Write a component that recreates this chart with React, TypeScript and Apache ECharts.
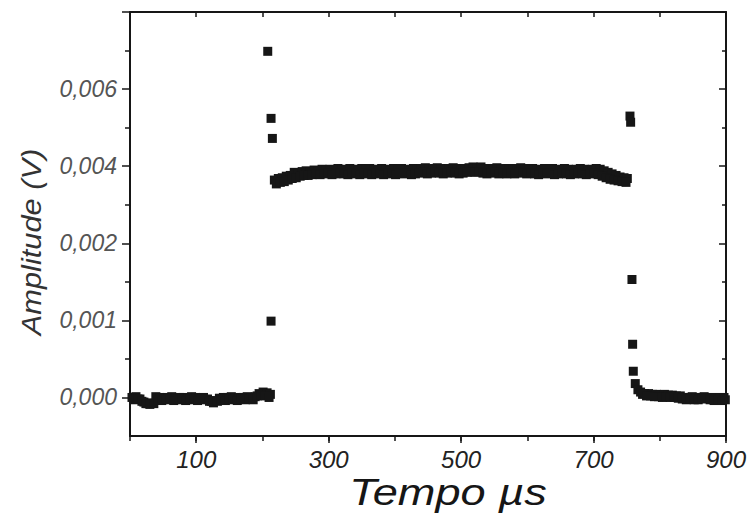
import { useEffect, useRef } from "react";
import * as echarts from "echarts";

// Amplitude values are given in the plot's tick steps (tick k carries label yTickLabels[k])
const baseline: [number, number][] = [
  [3, 0.0], [9, 0.01], [15, -0.02], [21, -0.06], [27, -0.08], [33, -0.07], [39, 0.01],
  [45, 0.0], [51, -0.01], [57, 0.0], [63, 0.01], [69, -0.01], [75, 0.0], [81, 0.0],
  [87, -0.01], [93, 0.01], [99, 0.0], [105, -0.01], [111, 0.0], [117, -0.02], [123, -0.05],
  [129, -0.04], [135, -0.01], [141, 0.0], [147, 0.0], [153, 0.01], [159, -0.01], [165, 0.0],
  [171, 0.0], [177, 0.01], [183, 0.0], [189, 0.01], [195, 0.05], [201, 0.07], [207, 0.06],
  [212, 0.04],
];

const baselineScatter: [number, number][] = [
  [6, -0.03], [12, -0.02], [18, -0.05], [24, -0.08], [30, -0.09], [36, -0.08], [42, -0.03],
  [48, -0.04], [54, -0.02], [60, -0.03], [66, -0.04], [72, -0.02], [78, -0.03], [84, -0.04],
  [90, -0.02], [96, -0.03], [102, -0.04], [108, -0.02], [114, -0.03], [120, -0.05], [126, -0.07],
  [132, -0.05], [138, -0.03], [144, -0.04], [150, -0.02], [156, -0.03], [162, -0.04], [168, -0.02],
  [174, -0.03], [180, -0.02], [186, -0.03], [192, 0.02], [198, 0.03], [204, 0.02], [210, 0.0],
];

const riseSpike: [number, number][] = [
  [208, 4.49], [213, 3.62], [215, 3.36], [213, 0.99],
];

const plateau: [number, number][] = [
  [218, 2.82], [224, 2.84], [230, 2.85], [236, 2.87], [242, 2.88], [248, 2.92], [254, 2.91],
  [260, 2.93], [266, 2.94], [272, 2.93], [278, 2.95], [284, 2.94], [290, 2.96], [296, 2.95],
  [302, 2.96], [308, 2.95], [314, 2.97], [320, 2.96], [326, 2.95], [332, 2.97], [338, 2.96],
  [344, 2.95], [350, 2.97], [356, 2.96], [362, 2.97], [368, 2.95], [374, 2.96], [380, 2.97],
  [386, 2.96], [392, 2.95], [398, 2.97], [404, 2.96], [410, 2.97], [416, 2.95], [422, 2.96],
  [428, 2.97], [434, 2.96], [440, 2.97], [446, 2.98], [452, 2.96], [458, 2.97], [464, 2.98],
  [470, 2.97], [476, 2.96], [482, 2.97], [488, 2.98], [494, 2.97], [500, 2.96], [506, 2.97],
  [512, 2.98], [518, 2.99], [524, 2.98], [530, 2.99], [536, 2.97], [542, 2.96], [548, 2.97],
  [554, 2.98], [560, 2.96], [566, 2.97], [572, 2.96], [578, 2.97], [584, 2.96], [590, 2.98],
  [596, 2.97], [602, 2.96], [608, 2.97], [614, 2.96], [620, 2.95], [626, 2.97], [632, 2.96],
  [638, 2.97], [644, 2.95], [650, 2.96], [656, 2.97], [662, 2.96], [668, 2.95], [674, 2.96],
  [680, 2.97], [686, 2.96], [692, 2.95], [698, 2.96], [704, 2.97], [710, 2.96], [716, 2.94],
  [722, 2.92], [728, 2.9], [734, 2.88], [740, 2.86], [746, 2.85], [751, 2.84],
];

const plateauScatter: [number, number][] = [
  [221, 2.77], [227, 2.79], [233, 2.8], [239, 2.82], [245, 2.84], [251, 2.85], [257, 2.87],
  [263, 2.88], [269, 2.88], [275, 2.89], [281, 2.9], [287, 2.89], [293, 2.9], [299, 2.91],
  [305, 2.89], [311, 2.9], [317, 2.91], [323, 2.9], [329, 2.89], [335, 2.91], [341, 2.9],
  [347, 2.89], [353, 2.91], [359, 2.9], [365, 2.89], [371, 2.91], [377, 2.9], [383, 2.89],
  [389, 2.91], [395, 2.9], [401, 2.89], [407, 2.91], [413, 2.9], [419, 2.91], [425, 2.89],
  [431, 2.9], [437, 2.91], [443, 2.92], [449, 2.9], [455, 2.91], [461, 2.92], [467, 2.91],
  [473, 2.9], [479, 2.91], [485, 2.92], [491, 2.91], [497, 2.9], [503, 2.91], [509, 2.92],
  [515, 2.93], [521, 2.92], [527, 2.93], [533, 2.91], [539, 2.9], [545, 2.91], [551, 2.92],
  [557, 2.9], [563, 2.91], [569, 2.9], [575, 2.91], [581, 2.9], [587, 2.92], [593, 2.91],
  [599, 2.9], [605, 2.91], [611, 2.9], [617, 2.89], [623, 2.91], [629, 2.9], [635, 2.91],
  [641, 2.89], [647, 2.9], [653, 2.91], [659, 2.9], [665, 2.89], [671, 2.9], [677, 2.91],
  [683, 2.9], [689, 2.89], [695, 2.9], [701, 2.91], [707, 2.89], [713, 2.87], [719, 2.85],
  [725, 2.83], [731, 2.82], [737, 2.81], [743, 2.8], [749, 2.79],
];

const fallSpike: [number, number][] = [
  [755, 3.65], [756, 3.57], [758, 1.53], [759, 0.69], [760, 0.34], [763, 0.18], [767, 0.1],
];

const tail: [number, number][] = [
  [771, 0.07], [777, 0.05], [783, 0.05], [789, 0.04], [795, 0.04], [801, 0.03], [807, 0.04],
  [813, 0.03], [819, 0.03], [825, 0.02], [831, 0.02], [837, 0.0], [843, 0.0], [849, 0.01],
  [855, 0.0], [861, 0.0], [867, 0.01], [873, 0.0], [879, -0.01], [885, 0.0], [891, -0.01],
  [897, 0.0],
];

const tailScatter: [number, number][] = [
  [774, 0.04], [780, 0.02], [786, 0.02], [792, 0.01], [798, 0.01], [804, 0.0], [810, 0.01],
  [816, 0.0], [822, 0.0], [828, -0.01], [834, -0.02], [840, -0.03], [846, -0.02], [852, -0.03],
  [858, -0.03], [864, -0.02], [870, -0.01], [876, -0.03], [882, -0.04], [888, -0.03], [894, -0.04],
  [899, -0.03],
];

const yTickLabels = ["0,000", "0,001", "0,002", "0,004", "0,006"];
const yMajorTicks = [0, 1, 2, 3, 4, 5];
const yMinorTicks = [0.5, 1.5, 2.5, 3.5, 4.5];
const xLabelTicks = [100, 300, 500, 700, 900];

export default function App() {
  const ref = useRef<HTMLDivElement>(null);
  useEffect(() => {
    const chart = echarts.init(ref.current!, null, { renderer: "svg" });
    const ink = "#161616";
    const font = "'Liberation Sans', Arial, sans-serif";
    const lineStyle = { color: ink, width: 2 };
    const tickLine = { color: ink, width: 1.5 };
    const hidden = { show: false };
    const allData = [
      ...baseline, ...baselineScatter, ...riseSpike, ...plateau, ...plateauScatter,
      ...fallSpike, ...tail, ...tailScatter,
    ];
    chart.setOption({
      animation: false,
      grid: { left: 130, right: 29, top: 12, bottom: 84 },
      xAxis: [
        {
          type: "value", min: 0, max: 900, interval: 100, position: "bottom",
          axisLine: { onZero: false, lineStyle },
          axisTick: { inside: false, length: 5, lineStyle: tickLine },
          axisLabel: {
            customValues: xLabelTicks,
            formatter: (v: number) => String(v),
            fontStyle: "italic", fontSize: 24, fontFamily: font, color: "#222", margin: 11,
          },
          splitLine: hidden,
        },
        {
          type: "value", min: 0, max: 900, interval: 100, position: "bottom",
          axisLine: { show: false, onZero: false },
          axisTick: { customValues: xLabelTicks, inside: false, length: 7, lineStyle: tickLine },
          axisLabel: hidden, splitLine: hidden,
        },
        {
          type: "value", min: 0, max: 900, interval: 100, position: "top",
          axisLine: { onZero: false, lineStyle },
          axisTick: { inside: true, length: 5, lineStyle: tickLine },
          axisLabel: hidden, splitLine: hidden,
        },
      ],
      yAxis: [
        {
          type: "value", min: -0.5, max: 5, position: "left",
          axisLine: { show: true, onZero: false, lineStyle },
          axisTick: { show: true, customValues: yMajorTicks, inside: false, length: 8, lineStyle: tickLine },
          axisLabel: {
            customValues: [0, 1, 2, 3, 4],
            formatter: (v: number) => yTickLabels[Math.round(v)] ?? "",
            fontStyle: "italic", fontSize: 23, fontFamily: font, color: "#555", margin: 13,
          },
          splitLine: hidden,
        },
        {
          type: "value", min: -0.5, max: 5, position: "left",
          axisLine: { show: false, onZero: false },
          axisTick: { show: true, customValues: yMinorTicks, inside: false, length: 5, lineStyle: tickLine },
          axisLabel: hidden, splitLine: hidden,
        },
        {
          type: "value", min: -0.5, max: 5, position: "right",
          axisLine: { show: true, onZero: false, lineStyle },
          axisTick: { show: true, customValues: yMajorTicks, inside: true, length: 7, lineStyle: tickLine },
          axisLabel: hidden, splitLine: hidden,
        },
        {
          type: "value", min: -0.5, max: 5, position: "right",
          axisLine: { show: false, onZero: false },
          axisTick: { show: true, customValues: yMinorTicks, inside: true, length: 4, lineStyle: tickLine },
          axisLabel: hidden, splitLine: hidden,
        },
      ],
      graphic: [
        {
          type: "text", x: 448, y: 492, scaleX: 1.22,
          style: {
            text: "Tempo µs", fontSize: 37, fontStyle: "italic", fontFamily: font,
            fill: ink, align: "center", verticalAlign: "middle",
          },
        },
        {
          type: "text", x: 32, y: 242, rotation: Math.PI / 2, scaleX: 1.14,
          style: {
            text: "Amplitude (V)", fontSize: 27, fontStyle: "italic", fontFamily: font,
            fill: "#333", align: "center", verticalAlign: "middle",
          },
        },
      ],
      series: [
        {
          type: "scatter", xAxisIndex: 0, yAxisIndex: 0, data: allData,
          symbol: "rect", symbolSize: 9, itemStyle: { color: ink, opacity: 1 },
        },
      ],
    });
    return () => chart.dispose();
  }, []);
  return <div ref={ref} style={{ width: 755, height: 520, position: "absolute", left: 0, top: 0 }} />;
}
